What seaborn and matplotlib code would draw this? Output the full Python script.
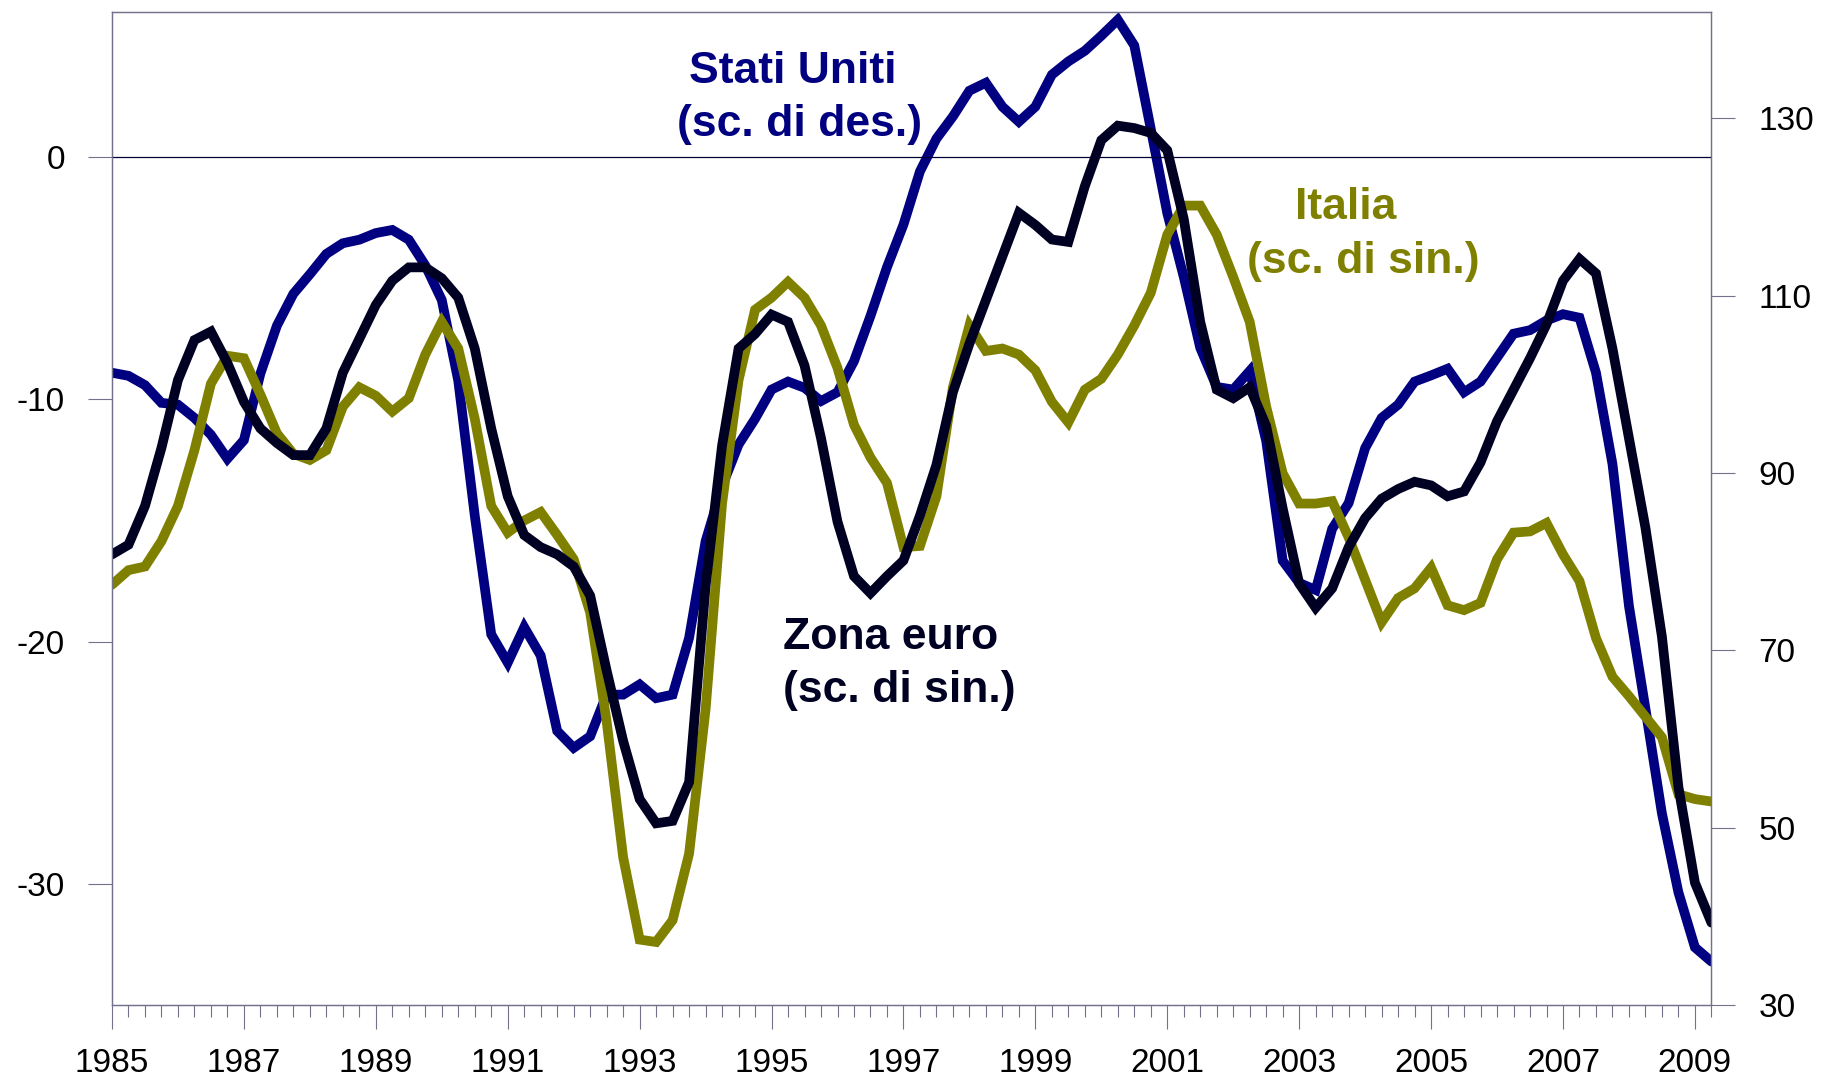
import numpy as np
import pandas as pd
import matplotlib
matplotlib.use("Agg")
import matplotlib.pyplot as plt
from matplotlib.ticker import MultipleLocator, FixedLocator
import seaborn as sns

# ---------------- data (quarterly, 1985Q1 - 2009Q2) ----------------
quarters = pd.period_range("1985Q1", "2009Q2", freq="Q")

euro = [-16.4, -16.0, -14.4, -12.0, -9.2, -7.55, -7.2, -8.5, -10.1, -11.2, -11.8, -12.3, -12.3, -11.2, -8.9, -7.5, -6.1,
        -5.1, -4.55, -4.55, -5.0, -5.8, -7.9, -11.2, -14.0, -15.6, -16.1, -16.4, -16.9, -18.1, -21.2, -24.1, -26.5,
        -27.5, -27.4, -25.8, -17.7, -11.9, -7.9, -7.3, -6.5, -6.8, -8.6, -11.6, -15.05, -17.3, -18.0, -17.3, -16.65,
        -14.8, -12.7, -9.7, -7.7, -5.9, -4.1, -2.3, -2.8, -3.4, -3.5, -1.2, 0.7, 1.3, 1.2, 1.0, 0.28,
        -2.55, -6.8, -9.6, -9.95, -9.5, -11.1, -14.5, -17.6, -18.6, -17.8, -16.1, -14.9, -14.1, -13.7, -13.4, -13.55,
        -14.0, -13.8, -12.6, -10.9, -9.6, -8.3, -6.9, -5.1, -4.2, -4.8, -7.9, -11.6, -15.3, -19.8, -26.0, -29.95, -31.6]

italia = [-17.65, -17.05, -16.9, -15.85, -14.4, -12.1, -9.35, -8.2, -8.3, -9.8, -11.4, -12.25, -12.5, -12.1, -10.3, -9.5, -9.85,
          -10.5, -9.95, -8.15, -6.8, -7.9, -10.8, -14.4, -15.5, -15.0, -14.65, -15.6, -16.6, -18.8, -23.3, -28.9, -32.3,
          -32.4, -31.5, -28.75, -22.8, -14.3, -9.2, -6.3, -5.8, -5.15, -5.8, -6.95, -8.7, -11.05, -12.4, -13.45, -16.1,
          -16.05, -14.0, -9.5, -6.95, -8.0, -7.9, -8.15, -8.8, -10.1, -10.95, -9.6, -9.15, -8.15, -6.95, -5.6, -3.2,
          -2.0, -2.0, -3.2, -4.95, -6.8, -10.3, -13.05, -14.3, -14.3, -14.2, -15.7, -17.45, -19.2, -18.2, -17.8, -16.95,
          -18.5, -18.7, -18.4, -16.6, -15.5, -15.45, -15.1, -16.4, -17.5, -19.85, -21.45, -22.25, -23.1, -23.95, -26.3, -26.5, -26.6]

usa = [101.3, 100.95, 99.9, 97.9, 97.7, 96.2, 94.3, 91.6, 93.7, 101.2, 106.6, 110.2, 112.4, 114.7, 115.9, 116.3, 117.05,
       117.4, 116.3, 113.4, 109.5, 100.4, 85.2, 71.8, 68.6, 72.6, 69.4, 60.9, 59.0, 60.3, 65.0, 65.0, 66.15,
       64.6, 65.0, 71.4, 82.3, 88.5, 93.2, 96.1, 99.4, 100.3, 99.6, 98.1, 99.1, 102.6, 107.7, 113.2, 118.0,
       124.0, 127.7, 130.2, 133.1, 134.0, 131.3, 129.6, 131.3, 134.9, 136.4, 137.6, 139.3, 141.1, 138.2, 128.8, 119.3,
       112.1, 104.1, 99.7, 99.4, 101.5, 93.6, 80.1, 77.6, 76.8, 83.7, 86.6, 92.8, 96.2, 97.7, 100.3, 101.0,
       101.75, 99.1, 100.3, 103.0, 105.7, 106.1, 107.2, 107.9, 107.5, 101.3, 91.0, 75.0, 63.4, 51.6, 42.7, 36.5, 34.9]

left_ticks = [-30, -20, -10, 0]
right_ticks = [30, 50, 70, 90, 110, 130]
year_ticks = list(range(1985, 2010, 2))

# ---------------- style ----------------
sns.set_style("white")
plt.rcParams["font.family"] = ["Liberation Sans", "DejaVu Sans"]
plt.rcParams["axes.unicode_minus"] = False
plt.rcParams["text.color"] = "black"
plt.rcParams["xtick.labelcolor"] = "black"
plt.rcParams["ytick.labelcolor"] = "black"

C_US = "#000080"
C_IT = "#808000"
C_EU = "#000022"
C_SPINE = "#72728a"

df = pd.DataFrame({
    "t": quarters.year + (quarters.quarter - 1) / 4.0,
    "euro": euro,
    "italia": italia,
    "usa": usa,
})

fig = plt.figure(figsize=(18.23, 10.82), dpi=100)
ax = fig.add_axes([112 / 1823, 1 - 1005 / 1082, (1711.4 - 112) / 1823, (1005 - 11.8) / 1082])
ax2 = ax.twinx()

LW = 7.0
sns.lineplot(data=df, x="t", y="usa", ax=ax2, color=C_US, lw=LW, solid_joinstyle="miter")
sns.lineplot(data=df, x="t", y="italia", ax=ax, color=C_IT, lw=LW, solid_joinstyle="miter")
sns.lineplot(data=df, x="t", y="euro", ax=ax, color=C_EU, lw=LW, solid_joinstyle="miter")
ax.axhline(0, color="#000033", lw=0.9, zorder=1)

# draw the left-scale axes above the right-scale one
ax.set_zorder(ax2.get_zorder() + 1)
ax.patch.set_visible(False)

ax.set_xlim(1985, 2009.25)
ax.set_ylim(-35, 6)
ax2.set_ylim(30, 142)

ax.set_xlabel("")
ax.set_ylabel("")
ax2.set_ylabel("")

ax.xaxis.set_major_locator(FixedLocator(year_ticks))
ax.xaxis.set_minor_locator(MultipleLocator(0.25))
ax.set_xticklabels([str(y) for y in year_ticks])
ax.yaxis.set_major_locator(FixedLocator(left_ticks))
ax.set_yticklabels([str(v) for v in left_ticks])
ax2.yaxis.set_major_locator(FixedLocator(right_ticks))
ax2.set_yticklabels([str(v) for v in right_ticks])

FS = 24
ax.tick_params(axis="x", which="major", direction="out", length=17, width=0.8, color=C_SPINE,
               labelsize=FS, pad=14, bottom=True, labelcolor="black")
ax.tick_params(axis="x", which="minor", direction="out", length=8.5, width=0.8, color=C_SPINE, bottom=True)
ax.tick_params(axis="y", which="major", direction="out", length=17, width=0.8, color=C_SPINE,
               labelsize=FS, pad=17, left=True, labelcolor="black")
ax2.tick_params(axis="y", which="major", direction="out", length=17, width=0.8, color=C_SPINE,
                labelsize=FS, pad=17, right=True, labelcolor="black")

for a in (ax, ax2):
    for s in a.spines.values():
        s.set_visible(True)
        s.set_color(C_SPINE)
        s.set_linewidth(0.9)

# ---------------- labels ----------------
tkw = dict(fontsize=32, fontweight="bold", va="baseline", family=["Liberation Sans", "DejaVu Sans"])
ax.text(1995.315, 3.08, "Stati Uniti", color=C_US, ha="center", **tkw)
ax.text(1995.42, 0.87, "(sc. di des.)", color=C_US, ha="center", **tkw)
ax.text(1995.17, -20.29, "Zona euro", color=C_EU, ha="left", **tkw)
ax.text(1995.17, -22.51, "(sc. di sin.)", color=C_EU, ha="left", **tkw)
ax.text(2003.71, -2.54, "Italia", color=C_IT, ha="center", **tkw)
ax.text(2003.97, -4.79, "(sc. di sin.)", color=C_IT, ha="center", **tkw)

fig.savefig("out.png", dpi=100)
